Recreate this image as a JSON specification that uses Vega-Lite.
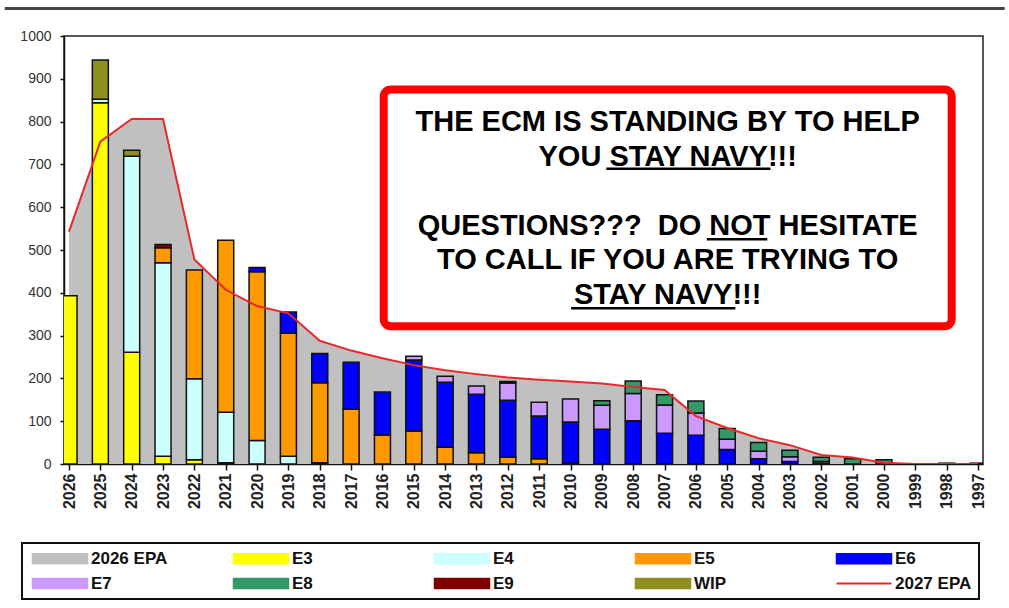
{
  "$schema": "https://vega.github.io/schema/vega-lite/v6.json",
  "width": 919,
  "height": 428,
  "autosize": {"type": "none"},
  "padding": {"left": 64, "top": 36, "right": 26, "bottom": 144},
  "background": "white",
  "config": {
    "view": {"stroke": "#222", "strokeWidth": 1.5},
    "axis": {"grid": false, "domainColor": "#111", "domainWidth": 1.5, "tickColor": "#111", "tickWidth": 1.5}
  },
  "datasets": {
    "grades": [
      {"year": 2026, "grade": "E3", "count": 393},
      {"year": 2025, "grade": "E3", "count": 844},
      {"year": 2025, "grade": "E4", "count": 8},
      {"year": 2025, "grade": "WIP", "count": 92},
      {"year": 2024, "grade": "E3", "count": 261},
      {"year": 2024, "grade": "E4", "count": 458},
      {"year": 2024, "grade": "WIP", "count": 14},
      {"year": 2023, "grade": "E3", "count": 18},
      {"year": 2023, "grade": "E4", "count": 452},
      {"year": 2023, "grade": "E5", "count": 35},
      {"year": 2023, "grade": "E9", "count": 8},
      {"year": 2022, "grade": "E3", "count": 10},
      {"year": 2022, "grade": "E4", "count": 189},
      {"year": 2022, "grade": "E5", "count": 254},
      {"year": 2021, "grade": "E3", "count": 3},
      {"year": 2021, "grade": "E4", "count": 118},
      {"year": 2021, "grade": "E5", "count": 402},
      {"year": 2020, "grade": "E4", "count": 55},
      {"year": 2020, "grade": "E5", "count": 394},
      {"year": 2020, "grade": "E6", "count": 10},
      {"year": 2019, "grade": "E4", "count": 18},
      {"year": 2019, "grade": "E5", "count": 288},
      {"year": 2019, "grade": "E6", "count": 49},
      {"year": 2018, "grade": "E4", "count": 3},
      {"year": 2018, "grade": "E5", "count": 187},
      {"year": 2018, "grade": "E6", "count": 68},
      {"year": 2017, "grade": "E5", "count": 128},
      {"year": 2017, "grade": "E6", "count": 110},
      {"year": 2016, "grade": "E5", "count": 68},
      {"year": 2016, "grade": "E6", "count": 100},
      {"year": 2015, "grade": "E5", "count": 77},
      {"year": 2015, "grade": "E6", "count": 166},
      {"year": 2015, "grade": "E7", "count": 9},
      {"year": 2014, "grade": "E5", "count": 39},
      {"year": 2014, "grade": "E6", "count": 152},
      {"year": 2014, "grade": "E7", "count": 14},
      {"year": 2013, "grade": "E5", "count": 26},
      {"year": 2013, "grade": "E6", "count": 137},
      {"year": 2013, "grade": "E7", "count": 19},
      {"year": 2012, "grade": "E5", "count": 16},
      {"year": 2012, "grade": "E6", "count": 133},
      {"year": 2012, "grade": "E7", "count": 40},
      {"year": 2012, "grade": "E8", "count": 4},
      {"year": 2011, "grade": "E5", "count": 12},
      {"year": 2011, "grade": "E6", "count": 100},
      {"year": 2011, "grade": "E7", "count": 32},
      {"year": 2010, "grade": "E5", "count": 2},
      {"year": 2010, "grade": "E6", "count": 96},
      {"year": 2010, "grade": "E7", "count": 54},
      {"year": 2009, "grade": "E6", "count": 81},
      {"year": 2009, "grade": "E7", "count": 56},
      {"year": 2009, "grade": "E8", "count": 11},
      {"year": 2008, "grade": "E6", "count": 101},
      {"year": 2008, "grade": "E7", "count": 64},
      {"year": 2008, "grade": "E8", "count": 29},
      {"year": 2007, "grade": "E6", "count": 72},
      {"year": 2007, "grade": "E7", "count": 66},
      {"year": 2007, "grade": "E8", "count": 24},
      {"year": 2006, "grade": "E6", "count": 67},
      {"year": 2006, "grade": "E7", "count": 52},
      {"year": 2006, "grade": "E8", "count": 28},
      {"year": 2005, "grade": "E6", "count": 34},
      {"year": 2005, "grade": "E7", "count": 24},
      {"year": 2005, "grade": "E8", "count": 25},
      {"year": 2004, "grade": "E6", "count": 12},
      {"year": 2004, "grade": "E7", "count": 18},
      {"year": 2004, "grade": "E8", "count": 20},
      {"year": 2003, "grade": "E6", "count": 6},
      {"year": 2003, "grade": "E7", "count": 11},
      {"year": 2003, "grade": "E8", "count": 15},
      {"year": 2002, "grade": "E6", "count": 2},
      {"year": 2002, "grade": "E7", "count": 4},
      {"year": 2002, "grade": "E8", "count": 10},
      {"year": 2001, "grade": "E8", "count": 12},
      {"year": 2000, "grade": "E8", "count": 10},
      {"year": 1998, "grade": "E8", "count": 2},
      {"year": 1997, "grade": "E8", "count": 2}
    ],
    "epa": [
      {"year": 2026, "epa2026": 543, "epa2027": 543},
      {"year": 2025, "epa2026": 753, "epa2027": 753},
      {"year": 2024, "epa2026": 806, "epa2027": 806},
      {"year": 2023, "epa2026": 806, "epa2027": 806},
      {"year": 2022, "epa2026": 478, "epa2027": 478},
      {"year": 2021, "epa2026": 407, "epa2027": 407},
      {"year": 2020, "epa2026": 369, "epa2027": 369},
      {"year": 2019, "epa2026": 352, "epa2027": 352},
      {"year": 2018, "epa2026": 288, "epa2027": 288},
      {"year": 2017, "epa2026": 265, "epa2027": 265},
      {"year": 2016, "epa2026": 247, "epa2027": 247},
      {"year": 2015, "epa2026": 231, "epa2027": 231},
      {"year": 2014, "epa2026": 219, "epa2027": 219},
      {"year": 2013, "epa2026": 210, "epa2027": 210},
      {"year": 2012, "epa2026": 202, "epa2027": 202},
      {"year": 2011, "epa2026": 197, "epa2027": 197},
      {"year": 2010, "epa2026": 193, "epa2027": 193},
      {"year": 2009, "epa2026": 188, "epa2027": 188},
      {"year": 2008, "epa2026": 180, "epa2027": 180},
      {"year": 2007, "epa2026": 173, "epa2027": 173},
      {"year": 2006, "epa2026": 112, "epa2027": 112},
      {"year": 2005, "epa2026": 84, "epa2027": 84},
      {"year": 2004, "epa2026": 60, "epa2027": 60},
      {"year": 2003, "epa2026": 44, "epa2027": 44},
      {"year": 2002, "epa2026": 21, "epa2027": 21},
      {"year": 2001, "epa2026": 15, "epa2027": 15},
      {"year": 2000, "epa2026": 3, "epa2027": 3},
      {"year": 1999, "epa2026": 0, "epa2027": 0},
      {"year": 1998, "epa2026": 0, "epa2027": 0},
      {"year": 1997, "epa2026": 0, "epa2027": 0}
    ]
  },
  "layer": [
    {
      "data": {"name": "epa"},
      "mark": {"type": "area", "clip": true},
      "encoding": {
        "x": {
          "field": "year", "type": "quantitative",
          "scale": {"domain": [2026, 1997], "nice": false, "zero": false},
          "axis": {
            "title": null,
            "values": [2026,2025,2024,2023,2022,2021,2020,2019,2018,2017,2016,2015,2014,2013,2012,2011,2010,2009,2008,2007,2006,2005,2004,2003,2002,2001,2000,1999,1998,1997],
            "tickCount": 30,
            "format": "d", "labelAngle": -90, "labelFont": "Liberation Sans", "labelFontWeight": "bold",
            "labelFontSize": 16, "labelColor": "#222", "tickSize": 6, "labelPadding": 3, "labelOverlap": false, "labelFlush": false, "labelBound": false
          }
        },
        "y": {
          "field": "epa2026", "type": "quantitative",
          "scale": {"domain": [0, 1000], "nice": false},
          "axis": {
            "title": null, "values": [0,100,200,300,400,500,600,700,800,900,1000], "format": "d",
            "labelFont": "Liberation Sans", "labelFontSize": 14, "labelColor": "#333",
            "tickSize": 4, "labelPadding": 9
          }
        },
        "color": {
          "datum": "2026 EPA",
          "title": null,
          "scale": {
            "domain": ["2026 EPA","E3","E4","E5","E6","E7","E8","E9","WIP","2027 EPA"],
            "range": ["#c0c0c0","#ffff00","#ccffff","#ff9900","#0000ff","#cc99ff","#339966","#800000","#8f8f1e","#e8282b"]
          },
          "legend": {
            "orient": "none", "legendX": -42, "legendY": 507,
            "direction": "horizontal", "columns": 5, "title": null,
            "padding": 7, "strokeColor": "#111", "fillColor": "white",
            "gridAlign": "all", "columnPadding": 61, "rowPadding": 7,
            "symbolSize": 100, "labelOffset": 45, "labelLimit": 300,
            "symbolStrokeColor": "#000", "symbolStrokeWidth": 1.5,
            "labelFont": "Liberation Sans", "labelFontWeight": "bold", "labelFontSize": 17, "labelColor": "#111",
            "encode": {
              "symbols": {
                "update": {
                  "shape": {"signal": "datum.value === '2027 EPA' ? 'M-1,0H10' : 'M-1,-1H10V1H-1Z'"},
                  "fill": {"scale": "color", "field": "value"},
                  "stroke": {"signal": "datum.value === '2027 EPA' ? '#e8282b' : '#000'"},
                  "strokeWidth": {"signal": "datum.value === '2027 EPA' ? 2 : 1.5"},
                  "opacity": {"value": 1},
                  "fillOpacity": {"value": 1},
                  "strokeOpacity": {"value": 1}
                }
              },
              "legend": {"update": {"strokeWidth": {"value": 2}}}
            }
          }
        }
      }
    },
    {
      "data": {"name": "grades"},
      "mark": {"type": "bar", "size": 16, "stroke": "#111", "strokeWidth": 1.5, "clip": true},
      "encoding": {
        "x": {"field": "year", "type": "quantitative", "axis": {
            "title": null,
            "values": [2026,2025,2024,2023,2022,2021,2020,2019,2018,2017,2016,2015,2014,2013,2012,2011,2010,2009,2008,2007,2006,2005,2004,2003,2002,2001,2000,1999,1998,1997],
            "tickCount": 30,
            "format": "d", "labelAngle": -90, "labelFont": "Liberation Sans", "labelFontWeight": "bold",
            "labelFontSize": 16, "labelColor": "#222", "tickSize": 6, "labelPadding": 3, "labelOverlap": false, "labelFlush": false, "labelBound": false
          }},
        "y": {"field": "count", "type": "quantitative", "stack": "zero", "title": null},
        "color": {"field": "grade", "type": "nominal", "title": null},
        "order": {"field": "grade", "sort": "ascending"}
      }
    },
    {
      "data": {"name": "epa"},
      "mark": {"type": "line", "strokeWidth": 2, "clip": true},
      "encoding": {
        "x": {"field": "year", "type": "quantitative"},
        "y": {"field": "epa2027", "type": "quantitative", "title": null},
        "color": {"datum": "2027 EPA", "title": null}
      }
    },
    {
      "data": {"values": [{}]},
      "mark": {"type": "rect", "fill": "white", "stroke": "#ff0000", "strokeWidth": 8, "cornerRadius": 7},
      "encoding": {
        "x": {"datum": 2015.96}, "x2": {"datum": 1997.84},
        "y": {"datum": 875}, "y2": {"datum": 322}
      }
    },
    {
      "data": {"values": [{}]},
      "mark": {
        "type": "text", "font": "Liberation Sans", "fontWeight": "bold", "fontSize": 29,
        "align": "center", "baseline": "alphabetic", "lineHeight": 34.6, "color": "#000",
        "text": ["THE ECM IS STANDING BY TO HELP", "YOU STAY NAVY!!!"]
      },
      "encoding": {"x": {"datum": 2006.9}, "y": {"datum": 778}}
    },
    {
      "data": {"values": [{}]},
      "mark": {
        "type": "text", "font": "Liberation Sans", "fontWeight": "bold", "fontSize": 29,
        "align": "center", "baseline": "alphabetic", "lineHeight": 34.6, "color": "#000",
        "text": ["QUESTIONS???\u00a0 DO NOT HESITATE", "TO CALL IF YOU ARE TRYING TO", "STAY NAVY!!!"]
      },
      "encoding": {"x": {"datum": 2006.9}, "y": {"datum": 535.5}}
    },
    {
      "data": {"values": [{}]},
      "mark": {"type": "rule", "stroke": "#000", "strokeWidth": 2.5},
      "encoding": {"x": {"datum": 2008.86}, "x2": {"datum": 2003.62}, "y": {"datum": 689.6}}
    },
    {
      "data": {"values": [{}]},
      "mark": {"type": "rule", "stroke": "#000", "strokeWidth": 2.5},
      "encoding": {"x": {"datum": 2005.653}, "x2": {"datum": 2003.721}, "y": {"datum": 525}}
    },
    {
      "data": {"values": [{}]},
      "mark": {"type": "rule", "stroke": "#000", "strokeWidth": 2.5},
      "encoding": {"x": {"datum": 2009.98}, "x2": {"datum": 2004.741}, "y": {"datum": 364}}
    },
    {
      "data": {"values": [{}]},
      "mark": {"type": "rule", "stroke": "#444", "strokeWidth": 3, "clip": false},
      "encoding": {"x": {"datum": 2028.05}, "x2": {"datum": 1996.15}, "y": {"datum": 1064}}
    }
  ]
}
